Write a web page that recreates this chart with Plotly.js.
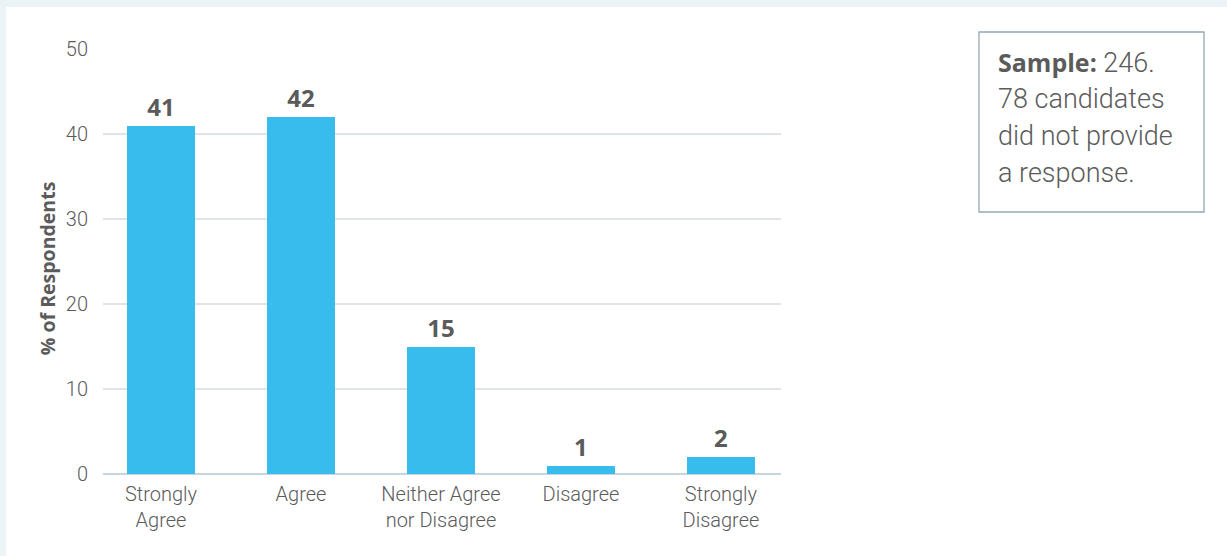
<!DOCTYPE html>
<html>
<head>
<meta charset="utf-8">
<script src="https://cdn.plot.ly/plotly-3.0.1.min.js"></script>
<style>
  html, body { margin: 0; padding: 0; background: #ebf3f6; width: 1227px; height: 556px; overflow: hidden; }
  #chart { position: absolute; left: 6px; top: 7px; width: 1221px; height: 549px; background: #ffffff; }
</style>
</head>
<body>
<div id="chart"></div>
<script>
const categories = ["Strongly<br>Agree", "Agree", "Neither Agree<br>nor Disagree", "Disagree", "Strongly<br>Disagree"];
const values = [41, 42, 15, 1, 2];
const yTicks = [0, 10, 20, 30, 40, 50];
const yTitle = "% of Respondents";
const noteBold = "Sample:";
const noteLines = [" 246.", "78 candidates", "did not provide", "a response."];

const W = 1221, H = 549;
const m = { l: 97, r: 446, t: 42, b: 82 };
const pw = W - m.l - m.r, ph = H - m.t - m.b;
const px = x => (x - m.l) / pw;
const py = y => 1 - (y - m.t) / ph;

const FONT = "Roboto, 'Open Sans', sans-serif";
const BFONT = "'Open Sans', Roboto, sans-serif";
const TXT = "#5b5b5b";

const trace = {
  type: "bar",
  x: categories.map((c, i) => i),
  y: values,
  width: 0.486,
  marker: { color: "#38bcee" },
  text: values.map(String),
  texttemplate: "<b>%{text}</b>",
  textposition: "outside",
  textfont: { family: BFONT, size: 24, color: TXT },
  cliponaxis: false,
  hoverinfo: "skip"
};

const annotations = [{
  xref: "paper", yref: "paper", x: px(41), y: 0.482,
  text: "<b>" + yTitle + "</b>", textangle: -90, showarrow: false,
  xanchor: "center", yanchor: "middle",
  font: { family: BFONT, size: 19.5, color: TXT }
}];
noteLines.forEach((t, i) => {
  const txt = i === 0
    ? "<span style='font-family:Open Sans;font-weight:bold;font-size:25px'>" + noteBold + "</span>" + t
    : t;
  annotations.push({
    xref: "paper", yref: "paper", x: px(990), y: py(55 + i * 37),
    text: txt, showarrow: false, xanchor: "left", yanchor: "middle", align: "left",
    font: { family: FONT, size: 27, color: TXT, weight: 300 }
  });
});

const layout = {
  width: W, height: H,
  margin: m,
  paper_bgcolor: "#ffffff",
  plot_bgcolor: "#ffffff",
  showlegend: false,
  bargap: 0,
  xaxis: {
    range: [-0.414, 4.429],
    tickvals: categories.map((c, i) => i),
    ticktext: categories,
    showgrid: false, zeroline: false, showline: false,
    ticks: "", ticklabelstandoff: 6,
    tickfont: { family: FONT, size: 20, color: TXT, weight: 300 },
    fixedrange: true
  },
  yaxis: {
    range: [0, 50],
    tickvals: yTicks,
    showgrid: true, gridcolor: "#dfe4e8", gridwidth: 1.3,
    zeroline: true, zerolinecolor: "#c8d5df", zerolinewidth: 1.5,
    showline: false, ticks: "", ticklabelstandoff: 14,
    tickfont: { family: FONT, size: 20, color: TXT, weight: 300 },
    fixedrange: true
  },
  shapes: [{
    type: "rect", xref: "paper", yref: "paper",
    x0: px(973), x1: px(1198), y0: py(205), y1: py(25),
    line: { color: "#94a8b6", width: 1.3 }, fillcolor: "rgba(0,0,0,0)"
  }],
  annotations: annotations
};

Plotly.newPlot("chart", [trace], layout, { displayModeBar: false, staticPlot: true });
</script>
</body>
</html>
